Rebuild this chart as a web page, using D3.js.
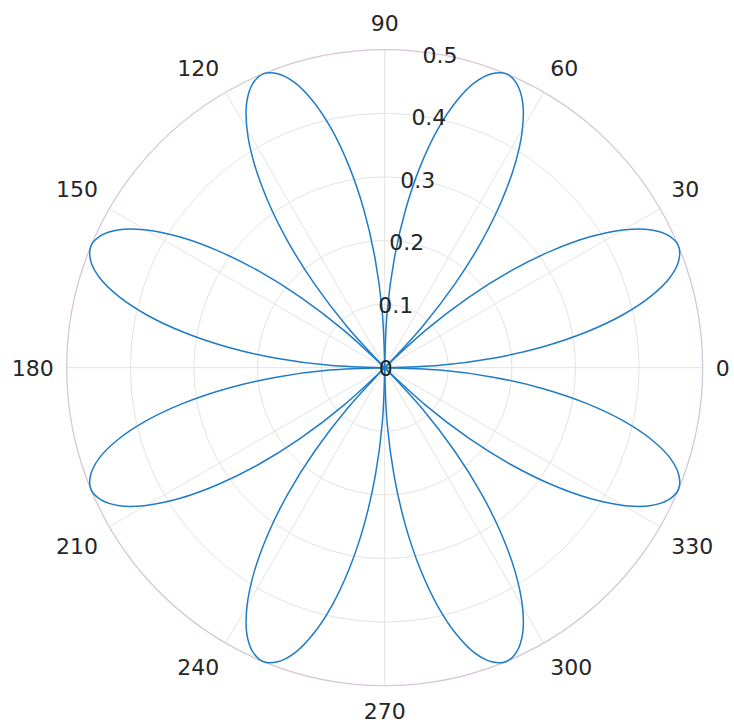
<!DOCTYPE html>
<html>
<head>
<meta charset="utf-8">
<script src="https://cdn.jsdelivr.net/npm/d3@7"></script>
<style>
  html, body { margin: 0; padding: 0; background: #ffffff; }
  svg { display: block; }
  text { font-family: "DejaVu Sans", sans-serif; fill: #262626; }
</style>
</head>
<body>
<svg id="chart" width="734" height="728"></svg>
<script>
// ---- data ----
const angleTicks = [0, 30, 60, 90, 120, 150, 180, 210, 240, 270, 300, 330];
const angleTickLabels = ["0", "30", "60", "90", "120", "150", "180", "210", "240", "270", "300", "330"];
const radialTicks = [0, 0.1, 0.2, 0.3, 0.4, 0.5];
const radialTickLabels = ["0", "0.1", "0.2", "0.3", "0.4", "0.5"];
const thetaStepDeg = 2.5;
// radius sampled every 2.5 degrees from 0 to 360 (eight petals)
const rValues = [
  0, 0.087, 0.171, 0.25, 0.321, 0.383, 0.433, 0.47, 0.492, 0.5, 0.492, 0.47, 0.433, 0.383, 0.321, 0.25, 0.171, 0.087,
  0, 0.087, 0.171, 0.25, 0.321, 0.383, 0.433, 0.47, 0.492, 0.5, 0.492, 0.47, 0.433, 0.383, 0.321, 0.25, 0.171, 0.087,
  0, 0.087, 0.171, 0.25, 0.321, 0.383, 0.433, 0.47, 0.492, 0.5, 0.492, 0.47, 0.433, 0.383, 0.321, 0.25, 0.171, 0.087,
  0, 0.087, 0.171, 0.25, 0.321, 0.383, 0.433, 0.47, 0.492, 0.5, 0.492, 0.47, 0.433, 0.383, 0.321, 0.25, 0.171, 0.087,
  0, 0.087, 0.171, 0.25, 0.321, 0.383, 0.433, 0.47, 0.492, 0.5, 0.492, 0.47, 0.433, 0.383, 0.321, 0.25, 0.171, 0.087,
  0, 0.087, 0.171, 0.25, 0.321, 0.383, 0.433, 0.47, 0.492, 0.5, 0.492, 0.47, 0.433, 0.383, 0.321, 0.25, 0.171, 0.087,
  0, 0.087, 0.171, 0.25, 0.321, 0.383, 0.433, 0.47, 0.492, 0.5, 0.492, 0.47, 0.433, 0.383, 0.321, 0.25, 0.171, 0.087,
  0, 0.087, 0.171, 0.25, 0.321, 0.383, 0.433, 0.47, 0.492, 0.5, 0.492, 0.47, 0.433, 0.383, 0.321, 0.25, 0.171, 0.087,
  0
];

// ---- layout ----
const cx = 384.7, cy = 367.7, R = 318;
const rScale = d3.scaleLinear().domain([0, 0.5]).range([0, R]);
const toRad = d => d * Math.PI / 180;
const px = (r, deg) => cx + r * Math.cos(toRad(deg));
const py = (r, deg) => cy - r * Math.sin(toRad(deg));

const svg = d3.select("#chart");
svg.append("rect").attr("width", 734).attr("height", 728).attr("fill", "#ffffff");

const grid = svg.append("g");
// inner circles
grid.selectAll("circle.inner")
  .data(radialTicks.filter(t => t > 0 && t < 0.5))
  .join("circle")
  .attr("cx", cx).attr("cy", cy)
  .attr("r", d => rScale(d))
  .attr("fill", "none")
  .attr("stroke", "#e3e3e3")
  .attr("stroke-width", 1);
// spokes
grid.selectAll("line.spoke")
  .data(angleTicks)
  .join("line")
  .attr("x1", cx).attr("y1", cy)
  .attr("x2", d => px(R, d)).attr("y2", d => py(R, d))
  .attr("stroke", "#e3e3e3")
  .attr("stroke-width", 1);
// outer circle
grid.append("circle")
  .attr("cx", cx).attr("cy", cy).attr("r", rScale(0.5))
  .attr("fill", "none")
  .attr("stroke", "#d6c6d8")
  .attr("stroke-width", 1.3);

// ---- curve: split into petals at zero radius ----
const pts = rValues.map((r, i) => ({ deg: i * thetaStepDeg, r }));
const petals = [];
let cur = [];
pts.forEach((p, i) => {
  cur.push(p);
  if (p.r === 0 && cur.length > 1) { petals.push(cur); cur = [p]; }
});

const line = d3.line()
  .x(d => px(rScale(d.r), d.deg))
  .y(d => py(rScale(d.r), d.deg))
  .curve(d3.curveCatmullRom.alpha(0.5));

svg.append("g").selectAll("path")
  .data(petals)
  .join("path")
  .attr("d", line)
  .attr("fill", "none")
  .attr("stroke", "#1f7bc4")
  .attr("stroke-width", 1.5)
  .attr("stroke-linejoin", "round");

// ---- angle labels ----
const labR = 331, cap = 16;
svg.append("g").selectAll("text")
  .data(angleTicks)
  .join("text")
  .attr("font-size", 22)
  .attr("x", d => px(labR, d))
  .attr("y", d => {
    const s = Math.sin(toRad(d));
    const y0 = py(labR, d);
    if (s > 0.01) return y0 - 5.5;
    if (s < -0.01) return y0 + 4.6 + cap;
    return y0 + cap / 2;
  })
  .attr("text-anchor", d => {
    const c = Math.cos(toRad(d));
    if (c > 0.01) return "start";
    if (c < -0.01) return "end";
    return "middle";
  })
  .text((d, i) => angleTickLabels[i]);

// ---- radial labels ----
const radLabAngle = 80;
svg.append("g").selectAll("text")
  .data(radialTicks)
  .join("text")
  .attr("font-size", 22)
  .attr("text-anchor", "middle")
  .attr("x", d => px(rScale(d), radLabAngle) + (d === 0 ? 1 : 0))
  .attr("y", d => py(rScale(d), radLabAngle) + cap / 2)
  .text((d, i) => radialTickLabels[i]);
</script>
</body>
</html>
